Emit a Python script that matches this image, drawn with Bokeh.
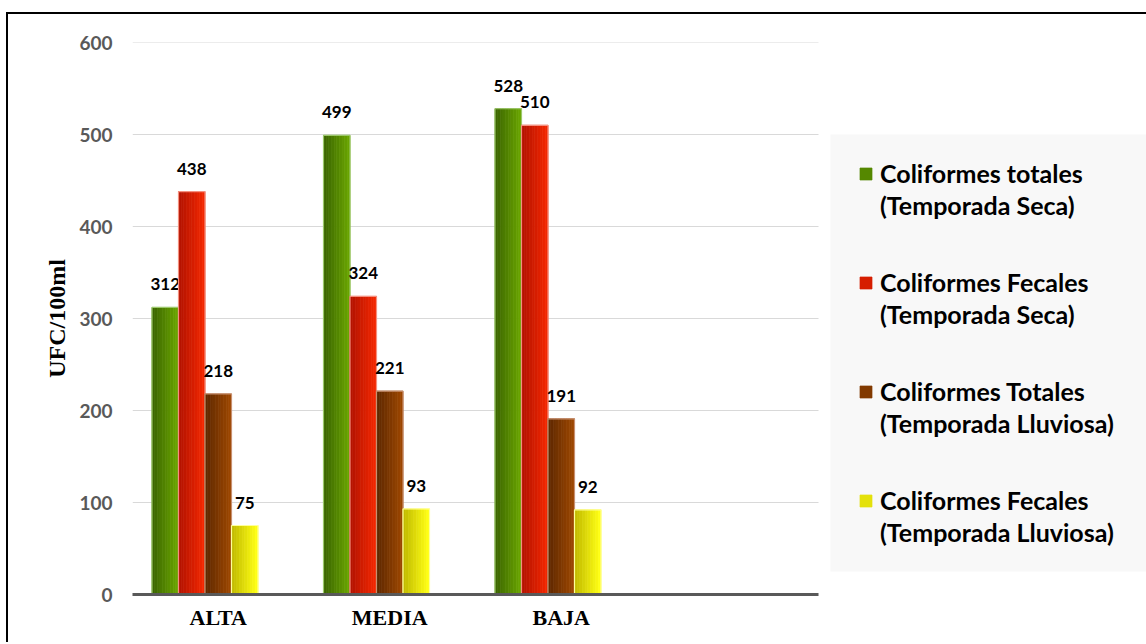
from bokeh.plotting import figure
from bokeh.models import Range1d, ColumnDataSource, Legend, LegendItem, FixedTicker, BoxAnnotation
from bokeh.transform import dodge
from bokeh.core.properties import value
from bokeh.embed import file_html
from bokeh.resources import INLINE

# ---------------- data ----------------
categories = ["ALTA", "MEDIA", "BAJA"]
ct_seca = [312, 499, 528]        # Coliformes totales (Temporada Seca)
cf_seca = [438, 324, 510]        # Coliformes Fecales (Temporada Seca)
ct_lluviosa = [218, 221, 191]    # Coliformes Totales (Temporada Lluviosa)
cf_lluviosa = [75, 93, 92]       # Coliformes Fecales (Temporada Lluviosa)
series_line1 = ["Coliformes totales", "Coliformes Fecales", "Coliformes Totales", "Coliformes Fecales"]
series_line2 = ["(Temporada Seca)", "(Temporada Seca)", "(Temporada Lluviosa)", "(Temporada Lluviosa)"]
y_ticks = [0, 100, 200, 300, 400, 500, 600]
y_label = "UFC/100ml"

# ---------------- style ----------------
palette = [  # dark (left), light (right), outline
    ("#3c6600", "#69a400", "#9cc86a"),
    ("#b41300", "#f22700", "#f4907f"),
    ("#5f2900", "#9c4600", "#c89070"),
    ("#c2bb00", "#ffff14", "#ffff9a"),
]
N_SLOTS = 4                   # category slots on the axis (last one empty)
BW = 26.5 / 171.5             # bar width as a fraction of a category
offsets = [-2 * BW, -BW, 0.0, BW]
NSTRIP = 10
FRAME_W, FRAME_H = 1014, 552
SLOT_PX = 171.5
PX_PER_UNIT_Y = FRAME_H / 600.0

xs = [i + 0.5 for i in range(len(categories))]   # category centres on the axis

p = figure(
    x_range=Range1d(0, FRAME_W / SLOT_PX),
    y_range=Range1d(0, 600),
    frame_width=FRAME_W, frame_height=FRAME_H,
    min_border_left=124, min_border_top=28, min_border_bottom=48, min_border_right=0,
    output_backend="svg", toolbar_location=None,
)
p.styles = {"border-top": "2px solid black", "border-left": "2px solid black",
            "margin-left": "6px", "margin-top": "12px"}
p.outline_line_color = None
p.background_fill_color = "white"
p.border_fill_color = "white"
p.xgrid.grid_line_color = None
p.ygrid.grid_line_color = None

# horizontal grid lines over the category area only
p.segment(x0=0, x1=N_SLOTS, y0=y_ticks[1:], y1=y_ticks[1:], line_color="#d9d9d9", line_width=1)

source = ColumnDataSource(dict(x=xs, v0=ct_seca, v1=cf_seca, v2=ct_lluviosa, v3=cf_lluviosa,
                               t0=[str(v) for v in ct_seca], t1=[str(v) for v in cf_seca],
                               t2=[str(v) for v in ct_lluviosa], t3=[str(v) for v in cf_lluviosa]))


def mix(c1, c2, t):
    a = [int(c1[i:i + 2], 16) for i in (1, 3, 5)]
    b = [int(c2[i:i + 2], 16) for i in (1, 3, 5)]
    return "#%02x%02x%02x" % tuple(int(round(a[k] + (b[k] - a[k]) * t)) for k in range(3))


legend_renderers = []
for s in range(4):
    dark, light, edge = palette[s]
    col = "v%d" % s
    mid_r = None
    for k in range(NSTRIP):
        t = k / (NSTRIP - 1)
        c = mix(dark, light, t)
        off = offsets[s] + (k + 0.5 - NSTRIP / 2) * BW / NSTRIP
        r = p.vbar(x=dodge("x", off), top=col, width=BW / NSTRIP,
                   source=source, fill_color=c, line_color=c, line_width=0.7)
        if k == NSTRIP // 2:
            mid_r = r
    p.vbar(x=dodge("x", offsets[s]), top=col, width=BW, source=source,
           fill_color=None, line_color=edge, line_width=1.2)
    legend_renderers.append(mid_r)
    p.text(x=dodge("x", offsets[s]), y=col, text="t%d" % s, source=source,
           text_align="center", text_baseline="alphabetic", y_offset=-23,
           text_font=value("Lato"), text_font_style="bold", text_font_size="17px", text_color="black")

# invisible renderer used only for the second legend line (no swatch)
blank_r = p.vbar(x="x", top="v0", width=BW, source=source, fill_alpha=0, line_alpha=0)

# axes
p.yaxis.ticker = FixedTicker(ticks=y_ticks)
p.yaxis.axis_line_color = None
p.yaxis.major_tick_line_color = None
p.yaxis.minor_tick_line_color = None
p.yaxis.major_label_standoff = 14
p.yaxis.major_label_text_font = "Lato"
p.yaxis.major_label_text_font_style = "bold"
p.yaxis.major_label_text_font_size = "19px"
p.yaxis.major_label_text_color = "#595959"
p.yaxis.axis_label = y_label
p.yaxis.axis_label_text_font = "Liberation Serif"
p.yaxis.axis_label_text_font_style = "bold"
p.yaxis.axis_label_text_font_size = "24px"
p.yaxis.axis_label_text_color = "black"
p.yaxis.axis_label_standoff = 6

p.xaxis.ticker = FixedTicker(ticks=xs)
p.xaxis.major_label_overrides = {x: c for x, c in zip(xs, categories)}
p.xaxis.bounds = (0, N_SLOTS)
p.xaxis.axis_line_width = 3
p.xaxis.axis_line_color = "#595959"
p.xaxis.major_tick_line_color = None
p.xaxis.minor_tick_line_color = None
p.xaxis.major_label_standoff = 4
p.xaxis.major_label_text_font = "Liberation Serif"
p.xaxis.major_label_text_font_style = "bold"
p.xaxis.major_label_text_font_size = "22px"
p.xaxis.major_label_text_color = "black"

# legend background panel (pixel placement converted to the frame's units)
legend_bg = BoxAnnotation(left=(830 - 132) / SLOT_PX, right=None,
                          bottom=(594 - 571) / PX_PER_UNIT_Y, top=(594 - 134) / PX_PER_UNIT_Y,
                          fill_color="#f8f8f8", fill_alpha=1, line_color=None)
p.add_layout(legend_bg)

common = dict(background_fill_alpha=0, border_line_color=None,
              label_text_font="Lato", label_text_font_style="bold", label_text_font_size="25px",
              label_text_color="black", glyph_width=15, glyph_height=15, label_standoff=7,
              label_height=30, padding=0, margin=0, spacing=79)
legend_a = Legend(items=[LegendItem(label=series_line1[i], renderers=[legend_renderers[i]]) for i in range(4)],
                  location=(858 - 132, 79), **common)
legend_b = Legend(items=[LegendItem(label=series_line2[i], renderers=[blank_r]) for i in range(4)],
                  location=(858 - 132, 47), **common)
p.add_layout(legend_a, "center")
p.add_layout(legend_b, "center")

open("out.html", "w").write(file_html(p, INLINE))
